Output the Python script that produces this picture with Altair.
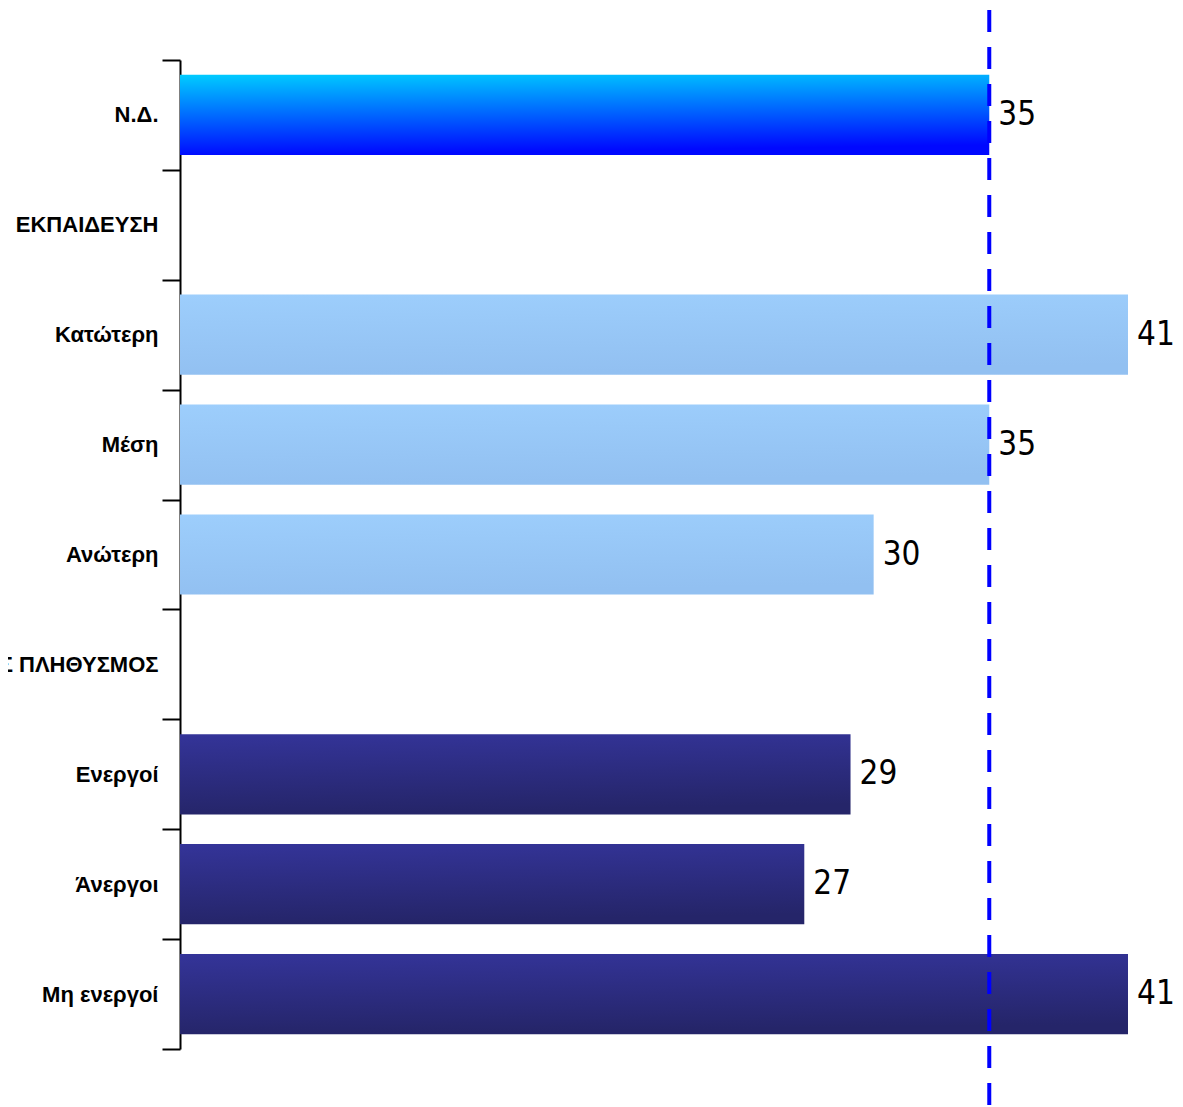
import altair as alt
import pandas as pd

categories = ["Ν.Δ.", "ΕΚΠΑΙΔΕΥΣΗ", "Κατώτερη", "Μέση", "Ανώτερη",
              "ΕΝΕΡΓΟΣ ΠΛΗΘΥΣΜΟΣ", "Ενεργοί", "Άνεργοι", "Μη ενεργοί"]
values = [35, None, 41, 35, 30, None, 29, 27, 41]
groups = ["nd", "header", "edu", "edu", "edu", "header", "emp", "emp", "emp"]

df = pd.DataFrame({"cat": categories, "value": values, "group": groups})

W = 948
H = 989

y_enc = alt.Y(
    "cat:N",
    scale=alt.Scale(domain=categories, paddingInner=0, paddingOuter=0),
    axis=alt.Axis(
        title=None, tickBand="extent", tickSize=18, tickWidth=2, domainWidth=2,
        tickColor="black", domainColor="black",
        labelFontSize=22, labelFont="Liberation Sans", labelFontWeight="bold",
        labelColor="black", labelPadding=4, labelLimit=800,
    ),
)
x_enc = alt.X("value:Q", scale=alt.Scale(domain=[0, 41], nice=False, zero=True), axis=None)


def grad(c0, c1):
    return alt.Gradient(
        gradient="linear",
        stops=[alt.GradientStop(color=c0, offset=0), alt.GradientStop(color=c1, offset=1)],
        x1=0, y1=0, x2=0.15, y2=1,
    )


base = alt.Chart(df)


def bars(group, gradient):
    return base.transform_filter(alt.datum.group == group).mark_bar(
        color=gradient, height={"band": 0.73}
    ).encode(x=x_enc, y=y_enc)


nd_bar = bars("nd", grad("#00CCFF", "#0008FF"))
edu_bar = bars("edu", grad("#9DCEFC", "#92C0F1"))
emp_bar = bars("emp", grad("#343499", "#252569"))

rule = base.transform_filter(alt.datum.group == "nd").mark_rule(
    color="#0000FF", strokeWidth=4, strokeDash=[22, 15]
).encode(
    x=x_enc,
    y=alt.value(-50),
    y2=alt.value(H + 58),
)

labels = base.transform_filter("isValid(datum.value)").mark_text(
    align="left", baseline="middle", dx=9,
    font="Liberation Sans Narrow, DejaVu Sans Condensed, sans-serif",
    fontSize=33, color="black",
).encode(x=x_enc, y=y_enc, text="value:Q")

chart = alt.layer(nd_bar, edu_bar, emp_bar, rule, labels).properties(
    width=W, height=H,
    autosize=alt.AutoSizeParams(type="none"),
    padding={"left": 172, "top": 52, "right": 47, "bottom": 58},
).configure_view(stroke=None)

chart.save("out.html", embed_options={"renderer": "svg", "actions": False})
